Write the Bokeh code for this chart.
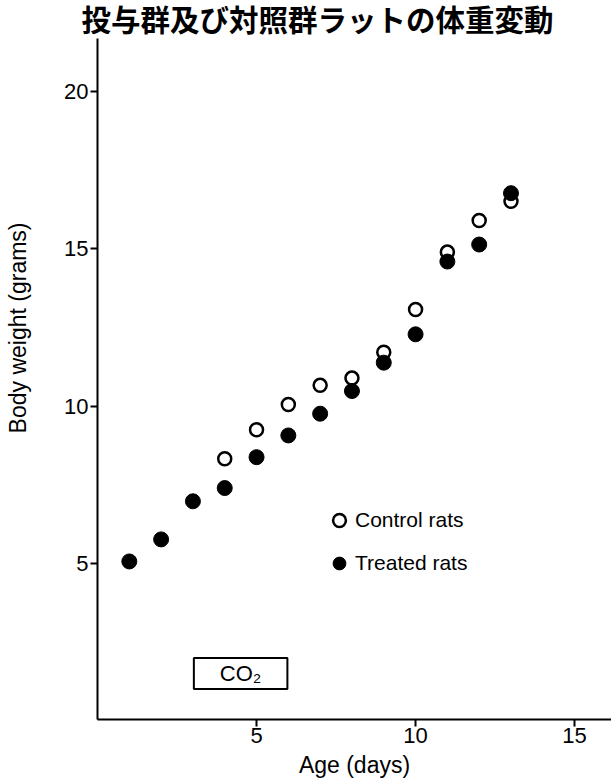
from bokeh.plotting import figure
from bokeh.models import Range1d, Legend, LegendItem, Label, Title, FixedTicker
from bokeh.embed import file_html
from bokeh.resources import INLINE

# Data
control_days = [4, 5, 6, 7, 8, 9, 10, 11, 12, 13]
control_weight = [8.34, 9.26, 10.06, 10.67, 10.9, 11.72, 13.08, 14.9, 15.9, 16.51]
treated_days = [1, 2, 3, 4, 5, 6, 7, 8, 9, 10, 11, 12, 13]
treated_weight = [5.08, 5.78, 6.99, 7.41, 8.39, 9.08, 9.77, 10.49, 11.39, 12.29, 14.6, 15.14, 16.77]
x_ticks = [5, 10, 15]
y_ticks = [5, 10, 15, 20]

title_text = "投与群及び対照群ラットの体重変動"
x_label = "Age (days)"
y_label = "Body weight (grams)"
series_names = ["Control rats", "Treated rats"]
box_text = "CO₂"

FONT = "Liberation Sans"

p = figure(width=611, height=781, output_backend="svg", toolbar_location=None,
           x_range=Range1d(0, 16.16), y_range=Range1d(0.063, 21.68),
           min_border_left=97, min_border_right=0, min_border_top=38, min_border_bottom=62)
p.title = None
p.outline_line_color = None
p.xgrid.visible = False
p.ygrid.visible = False
p.background_fill_color = "white"

t = Title(text=title_text, align="left", offset=-16, standoff=3,
          text_font="Liberation Sans, Noto Sans CJK JP", text_font_size="29.5px",
          text_font_style="bold", text_color="black")
p.add_layout(t, "above")

for ax in (p.xaxis[0], p.yaxis[0]):
    ax.axis_line_width = 2
    ax.axis_line_color = "black"
    ax.major_tick_line_width = 2
    ax.major_tick_line_color = "black"
    ax.major_tick_in = 0
    ax.major_tick_out = 7
    ax.minor_tick_line_color = None
    ax.major_label_text_font = FONT
    ax.major_label_text_font_size = "22px"
    ax.major_label_text_color = "black"

p.xaxis.major_label_standoff = 1
p.yaxis.major_label_standoff = 2
p.xaxis.ticker = FixedTicker(ticks=x_ticks)
p.yaxis.ticker = FixedTicker(ticks=y_ticks)
p.xaxis.axis_label = x_label
p.xaxis.axis_label_text_font = FONT
p.xaxis.axis_label_text_font_size = "23px"
p.xaxis.axis_label_text_font_style = "normal"
p.xaxis.axis_label_text_color = "black"
p.xaxis.axis_label_standoff = 6

yt = Title(text=y_label + "\n ", align="right", offset=184, standoff=6, vertical_align="top",
           text_font=FONT, text_font_size="23px", text_font_style="normal",
           text_color="black")
p.add_layout(yt, "left")

r_ctrl = p.scatter(control_days, control_weight, marker="circle", size=13,
                   fill_color="white", line_color="black", line_width=2.5)
r_trt = p.scatter(treated_days, treated_weight, marker="circle", size=15,
                  fill_color="black", line_color="black", line_width=1)

legend = Legend(items=[LegendItem(label=series_names[0], renderers=[r_ctrl]),
                       LegendItem(label=series_names[1], renderers=[r_trt])],
                location=(226, 138), orientation="vertical",
                glyph_width=32, glyph_height=36, label_standoff=0, spacing=7,
                padding=0, margin=0, border_line_color=None,
                background_fill_alpha=0,
                label_text_font=FONT, label_text_font_size="21px",
                label_text_color="black")
p.add_layout(legend, "center")

box = Label(x=4.5, y=1.52, text=box_text, text_align="center", text_baseline="middle",
            text_font=FONT, text_font_size="22px", text_color="black",
            border_line_color="black", border_line_width=2,
            background_fill_color="white",
            padding=dict(left=26, right=26, top=3, bottom=3))
p.add_layout(box)

open("out.html", "w").write(file_html(p, INLINE))
